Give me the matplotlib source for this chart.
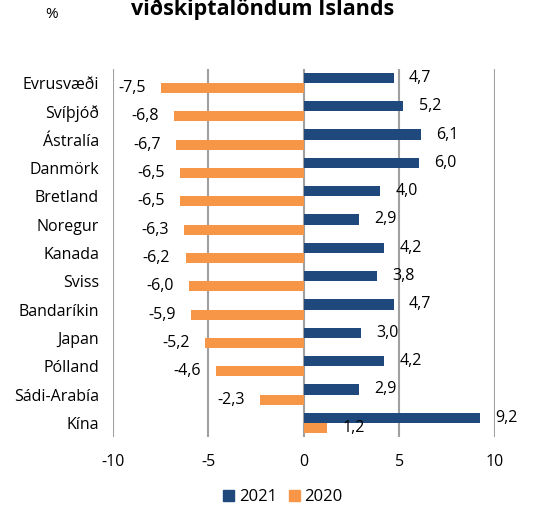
import matplotlib
matplotlib.use('Agg')
import matplotlib.pyplot as plt
import matplotlib.patches as mpatches
import numpy as np

plt.rcParams['font.family'] = ['Open Sans', 'DejaVu Sans']

# data
countries = ['Evrusvæði', 'Svíþjóð', 'Ástralía', 'Danmörk', 'Bretland', 'Noregur',
             'Kanada', 'Sviss', 'Bandaríkin', 'Japan', 'Pólland', 'Sádi-Arabía', 'Kína']
v2021 = [4.7, 5.2, 6.1, 6.0, 4.0, 2.9, 4.2, 3.8, 4.7, 3.0, 4.2, 2.9, 9.2]
v2020 = [-7.5, -6.8, -6.7, -6.5, -6.5, -6.3, -6.2, -6.0, -5.9, -5.2, -4.6, -2.3, 1.2]
xticks = [-10, -5, 0, 5, 10]

blue = '#1F497D'
orange = '#F79646'
fs = 11.5

fig = plt.figure(figsize=(5.33, 5.07), dpi=100)
ax = fig.add_axes([0.212, 0.1381, 0.7167, 0.7262])

y = np.arange(len(countries))
h = 0.36
ax.barh(y - h / 2, v2021, height=h, color=blue, zorder=3)
ax.barh(y + h / 2, v2020, height=h, color=orange, zorder=3)

def fmt(v):
    return f'{v:.1f}'.replace('.', ',')

# data labels outside the bar ends
def label(vals, offs):
    for i, v in enumerate(vals):
        if v >= 0:
            ax.annotate(fmt(v), xy=(v, i + offs), xytext=(11, 0), textcoords='offset points',
                        ha='left', va='center', fontsize=fs, color='#000000')
        else:
            ax.annotate(fmt(v), xy=(v, i + offs), xytext=(-11, 0), textcoords='offset points',
                        ha='right', va='center', fontsize=fs, color='#000000')

label(v2021, -h / 2)
label(v2020, h / 2)

ax.set_xlim(-10, 10)
ax.set_ylim(len(countries) - 0.5, -0.5)
ax.set_xticks(xticks)
ax.set_xticklabels([str(t) for t in xticks])
ax.set_yticks(y)
ax.set_yticklabels(countries)
ax.tick_params(axis='x', length=0, pad=12, labelsize=fs)
ax.tick_params(axis='y', length=0, pad=10, labelsize=fs)
ax.xaxis.grid(True, color='#A0A0A0', linewidth=1.5, zorder=0)
ax.set_axisbelow(True)
for s in ax.spines.values():
    s.set_visible(False)

# title (cut off at the top edge, as in the reference) and unit
fig.text(0.493, 1 - 15 / 507, 'viðskiptalöndum Íslands', ha='center', va='baseline',
         fontsize=15.5, fontweight='bold')
fig.text(52 / 533, 1 - 15 / 507, '%', ha='center', va='center', fontsize=11)

blue_patch = mpatches.Patch(color=blue, label='2021')
orange_patch = mpatches.Patch(color=orange, label='2020')
fig.legend(handles=[blue_patch, orange_patch], loc='center', bbox_to_anchor=(283 / 533, 1 - 497 / 507),
           ncol=2, frameon=False, fontsize=12, handlelength=0.65, handleheight=0.65,
           handletextpad=0.3, columnspacing=0.7)

fig.savefig('out.png', dpi=100)
